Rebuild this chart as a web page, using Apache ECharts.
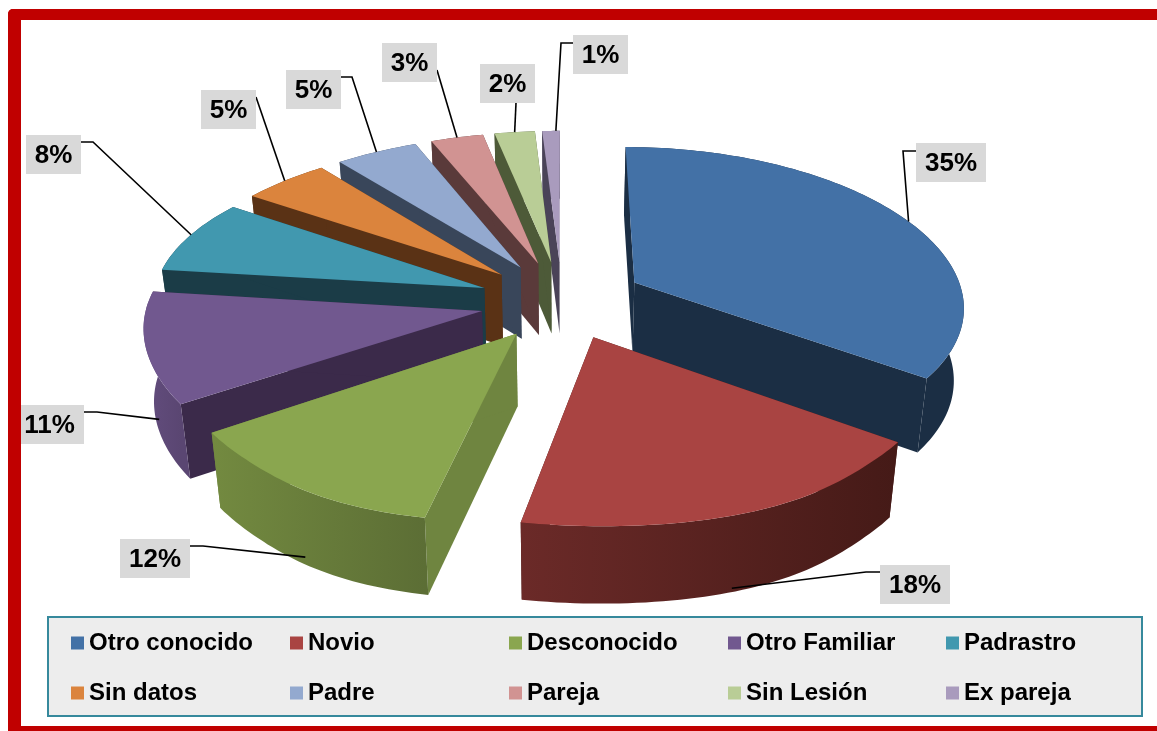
<!DOCTYPE html>
<html><head><meta charset="utf-8">
<style>html,body{margin:0;padding:0;background:#fff}#c{width:1157px;height:731px}</style>
<script src="https://cdn.jsdelivr.net/npm/echarts@6/dist/echarts.min.js"></script>
</head><body><div id="c"></div>
<script>
const categories = ['Otro conocido','Novio','Desconocido','Otro Familiar','Padrastro','Sin datos','Padre','Pareja','Sin Lesión','Ex pareja'];
const values = [35,18,12,11,8,5,4.7,3,2.3,1];

const topColors  = ['#4371A6','#A94442','#8AA64F','#71588F','#4198AF','#DB843D','#93A9CF','#D19392','#B9CD96','#A99BBD'];
const faceColors = ['#1B2E44','#451A17','#6F8540','#3B2A4A','#1B3C47','#5A3215','#39465A','#5A3A3A','#4D5A38','#4A4358'];
const wallLeft   = ['#1B2E44','#6B2A28','#738A40','#634D7E','#1B3C47','#5A3215','#39465A','#5A3A3A','#4D5A38','#4A4358'];
const wallRight  = ['#1B2E44','#451A17','#5C6E35','#5A4672','#1B3C47','#5A3215','#39465A','#5A3A3A','#4D5A38','#4A4358'];
const stacking   = [7,9,8,6,5,4,3,2,1,0];

const labelBoxes = [[916,143,70],[880,565,70],[120,539,70],[21,405,63],[26,135,55],[201,90,55],[286,70,55],[382,43,55],[480,64,55],[573,35,55]];
const labelElbows = [[903,151,916,151],[866,572,880,572],[203,546,190,546],[97,412,84,412],[93,142,81,142],[256,97,256,97],[352,77,341,77],[437,70,437,70],[516,103,516,103],[561,43,573,43]];
const anchorNudge = [2,3,-0.5,-6,0.5,0,0,0,0,1];
const anchorWall  = [0,0.95,0.9,0.75,0,0,0,0,0,0];

const CX=562, CY=300, RX=330, RY=156, KX=0.14, KY=0.122, EX=0.25, EY=0.25;
const total = values.reduce((a,b)=>a+b,0);
const rad = d=>d*Math.PI/180;

function startAngle(i){let s=0;for(let j=0;j<i;j++)s+=values[j];return s/total*360;}
function proj(mid,theta,r){
  const px=EX*Math.sin(rad(mid))+r*Math.sin(rad(theta));
  const f=-(EY*Math.cos(rad(mid))+r*Math.cos(rad(theta)));
  const s=1/(1-KY*f);
  const sx=(1/(1-KX*f))*(f>0.9?1+0.9*(f-0.9)*(f-0.9):1);
  const x=CX+RX*px*sx;
  const lift=x<CX?8*Math.pow((CX-x)/390,4):0;
  return {x:x,y:CY+RY*f*s-lift,s};
}
function low(p,t){
  t=t===undefined?1:t;
  const h=72+30*(p.s-1);
  return [p.x+(CX-p.x)*0.025*t,p.y+h*t];
}
function makeRender(i){
  return function(params,api){
    const v=api.value(0);
    const a0=startAngle(i), a1=a0+v/total*360, mid=(a0+a1)/2;
    const tip=proj(mid,0,0), arc=[];
    const n=Math.max(6,Math.round(v*3));
    for(let k=0;k<=n;k++) arc.push(proj(mid,a0+(a1-a0)*k/n,1));
    const top=[[tip.x,tip.y]].concat(arc.map(p=>[p.x,p.y]));
    const first=arc[0], last=arc[n];
    const face=(p)=>[[tip.x,tip.y],[p.x,p.y],low(p),low(tip)];
    const wall=arc.map(p=>[p.x,p.y]).concat(arc.slice().reverse().map(p=>low(p)));
    const xs=arc.map(p=>p.x), xa=Math.min.apply(null,xs), xb=Math.max.apply(null,xs);
    const kids=[
      {type:'polygon',shape:{points:face(first)},style:{fill:faceColors[i]}},
      {type:'polygon',shape:{points:face(last)},style:{fill:faceColors[i]}},
      {type:'polygon',shape:{points:wall},style:{fill:{type:'linear',x:xa,y:0,x2:xb,y2:0,global:true,colorStops:[{offset:0,color:wallLeft[i]},{offset:1,color:wallRight[i]}]}}},
      {type:'polygon',shape:{points:top},style:{fill:topColors[i]}}
    ];
    const an=proj(mid,mid+anchorNudge[i],1);
    const anl=low(an,anchorWall[i]);
    const ax=anl[0], ay=anl[1];
    const b=labelBoxes[i], e=labelElbows[i];
    kids.push({type:'polyline',shape:{points:[[ax,ay],[e[0],e[1]],[e[2],e[3]]]},style:{stroke:'#000',lineWidth:1.6,fill:null}});
    kids.push({type:'rect',shape:{x:b[0],y:b[1],width:b[2],height:39},style:{fill:'#D9D9D9'}});
    kids.push({type:'text',style:{text:Math.round(v)+'%',x:b[0]+b[2]/2+(i===3?-3:0),y:b[1]+21,align:'center',verticalAlign:'middle',font:'bold 26px "Liberation Sans"',fill:'#000'}});
    return {type:'group',children:kids};
  };
}
const series=categories.map((c,i)=>({
  type:'custom',name:c,coordinateSystem:'none',z:20+stacking[i],silent:true,animation:false,
  itemStyle:{color:topColors[i]},data:[[values[i]]],renderItem:makeRender(i)
}));
const legendColumns=[[0,5,71],[1,6,290],[2,7,509],[3,8,728],[4,9,946]];
const legend=legendColumns.map(c=>({
  data:[categories[c[0]],categories[c[1]]],left:c[2],top:630,orient:'vertical',itemGap:24,padding:0,
  itemWidth:13,itemHeight:13,icon:'rect',selectedMode:false,z:40,
  textStyle:{fontFamily:'"Liberation Sans"',fontWeight:'bold',fontSize:24,color:'#000',padding:[0,0,0,0],lineHeight:26}
}));
const chart=echarts.init(document.getElementById('c'),null,{renderer:'canvas'});
chart.setOption({
  animation:false,backgroundColor:'#fff',series,legend,
  graphic:[
    {type:'rect',z:1,shape:{x:48,y:617,width:1094,height:99},style:{fill:'#EDEDED',stroke:'#36899C',lineWidth:2}},
    {type:'rect',z:50,shape:{x:8,y:9,width:1149,height:11,r:[5,0,0,0]},style:{fill:'#C00000'}},
    {type:'rect',z:50,shape:{x:8,y:9,width:13,height:722,r:[5,0,0,0]},style:{fill:'#C00000'}},
    {type:'rect',z:50,shape:{x:8,y:726,width:1149,height:5},style:{fill:'#C00000'}}
  ]
});
</script></body></html>
